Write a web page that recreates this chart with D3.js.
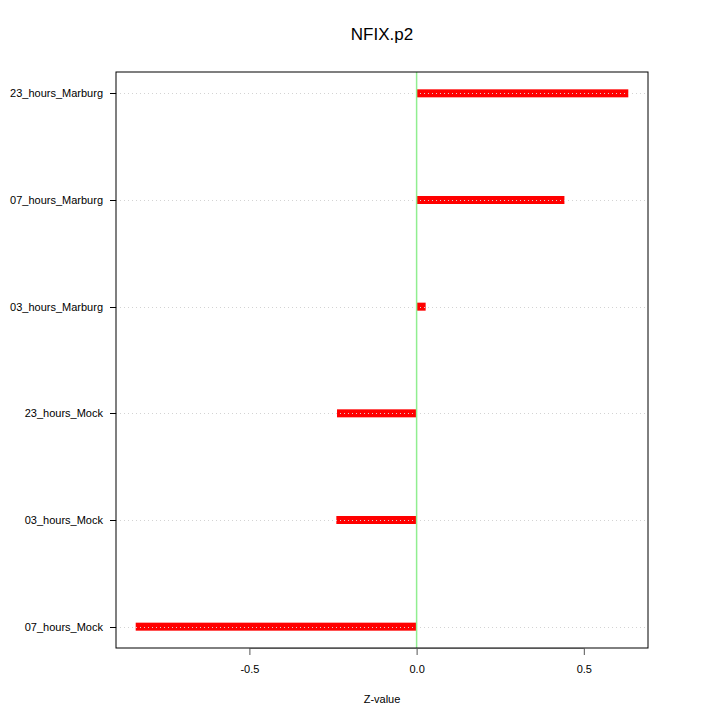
<!DOCTYPE html>
<html>
<head>
<meta charset="utf-8">
<script src="https://cdn.jsdelivr.net/npm/d3@7"></script>
<style>
  body { margin: 0; background: #fff; }
  svg { font-family: "Liberation Sans", Arial, sans-serif; }
</style>
</head>
<body>
<svg width="720" height="720"></svg>
<script>
// data, bottom to top
var samples = ["07_hours_Mock", "03_hours_Mock", "23_hours_Mock", "03_hours_Marburg", "07_hours_Marburg", "23_hours_Marburg"];
var zvalues = [-0.840, -0.240, -0.238, 0.027, 0.442, 0.633];
var xTicks = [-0.5, 0.0, 0.5];
var xTickLabels = ["-0.5", "0.0", "0.5"];

var svg = d3.select("svg");
var margin = { top: 72, right: 72, bottom: 72, left: 116 },
  width = 720 - margin.left - margin.right,
  height = 720 - margin.top - margin.bottom;

// R style 4% padding
var xmin = d3.min(zvalues), xmax = d3.max(zvalues);
var pad = (xmax - xmin) * 0.04;
var x = d3.scaleLinear().domain([xmin - pad, xmax + pad]).range([margin.left, margin.left + width]);
var y = d3.scaleLinear().domain([0.8, samples.length + 0.2]).range([margin.top + height, margin.top]);

// title
svg.append("text")
  .attr("x", 382)
  .attr("y", 40)
  .attr("text-anchor", "middle")
  .attr("font-size", "17px")
  .text("NFIX.p2");

// bars
svg.append("g")
  .selectAll("rect")
  .data(zvalues)
  .enter()
  .append("rect")
  .attr("x", function (d) { return Math.min(x(0), x(d)); })
  .attr("width", function (d) { return Math.abs(x(d) - x(0)); })
  .attr("y", function (d, i) { return y(i + 1) - 4; })
  .attr("height", 8)
  .attr("fill", "#ff0000");

// grid lines over the bars
svg.append("g")
  .selectAll("line")
  .data(samples)
  .enter()
  .append("line")
  .attr("x1", margin.left)
  .attr("x2", margin.left + width)
  .attr("y1", function (d, i) { return Math.round(y(i + 1)) + 0.5; })
  .attr("y2", function (d, i) { return Math.round(y(i + 1)) + 0.5; })
  .attr("stroke", "#d3d3d3")
  .attr("stroke-dasharray", "1,3");

// zero line
svg.append("line")
  .attr("x1", x(0)).attr("x2", x(0))
  .attr("y1", margin.top).attr("y2", margin.top + height)
  .attr("stroke", "#90ee90")
  .attr("stroke-width", 1.5);

// frame
svg.append("rect")
  .attr("x", margin.left)
  .attr("y", margin.top)
  .attr("width", width)
  .attr("height", height)
  .attr("fill", "none")
  .attr("stroke", "#000");

// x axis
var xAxis = d3.axisBottom(x)
  .tickValues(xTicks)
  .tickFormat(function (d, i) { return xTickLabels[i]; })
  .tickSize(7)
  .tickPadding(10);
var gx = svg.append("g")
  .attr("transform", "translate(0," + (margin.top + height) + ")")
  .call(xAxis);
gx.select(".domain")
  .attr("d", "M" + x(xTicks[0]) + ",0.5H" + x(xTicks[xTicks.length - 1]))
  .attr("stroke", "#555");
gx.selectAll(".tick line").attr("stroke", "#555");
gx.selectAll("text").attr("font-size", "11px").attr("fill", "#000")
  .attr("font-family", "Liberation Sans, Arial, sans-serif");

// y axis
var gy = svg.append("g")
  .attr("transform", "translate(" + margin.left + ",0)");
gy.selectAll("line")
  .data(samples)
  .enter()
  .append("line")
  .attr("x1", -6).attr("x2", 0)
  .attr("y1", function (d, i) { return Math.round(y(i + 1)) + 0.5; })
  .attr("y2", function (d, i) { return Math.round(y(i + 1)) + 0.5; })
  .attr("stroke", "#000");
gy.selectAll("text")
  .data(samples)
  .enter()
  .append("text")
  .attr("x", -13)
  .attr("y", function (d, i) { return y(i + 1); })
  .attr("dy", "0.35em")
  .attr("text-anchor", "end")
  .attr("font-size", "11px")
  .text(function (d) { return d; });

// x label
svg.append("text")
  .attr("x", 382)
  .attr("y", 703)
  .attr("text-anchor", "middle")
  .attr("font-size", "11px")
  .text("Z-value");
</script>
</body>
</html>
